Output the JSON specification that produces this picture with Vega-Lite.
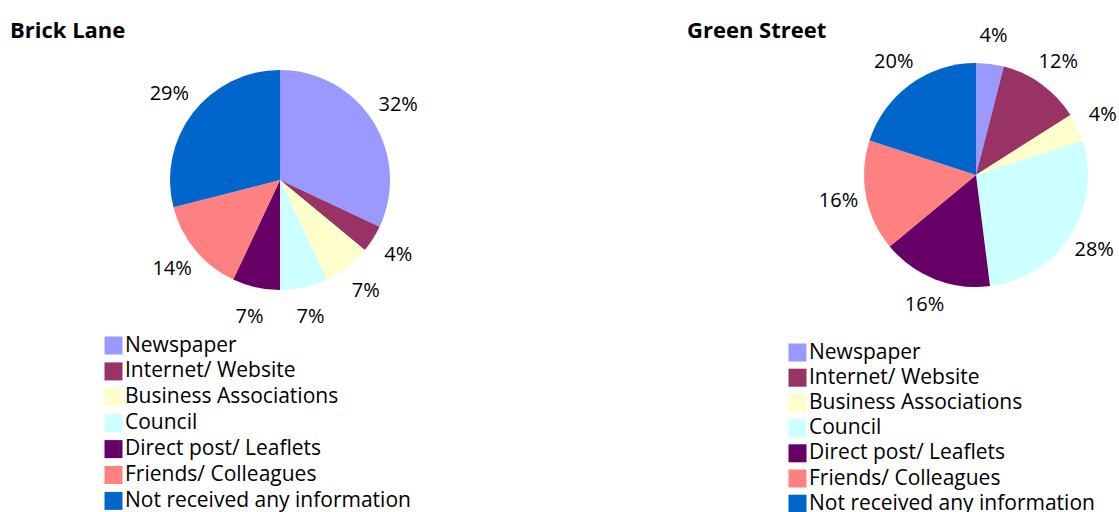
{
  "$schema": "https://vega.github.io/schema/vega-lite/v6.json",
  "padding": {"left": 10, "top": 20, "right": 0, "bottom": 0},
  "bounds": "flush",
  "spacing": 311,
  "background": "white",
  "config": {
    "view": {"stroke": null},
    "font": "Open Sans",
    "title": {"font": "Open Sans", "fontSize": 22, "fontWeight": "bold", "anchor": "start", "frame": "group", "color": "black", "offset": 12},
    "legend": {"padding": 0}
  },
  "datasets": {
    "d": [
      {"place": "Brick Lane", "idx": 1, "source": "Newspaper", "pct": 0.32},
      {"place": "Brick Lane", "idx": 2, "source": "Internet/ Website", "pct": 0.04},
      {"place": "Brick Lane", "idx": 3, "source": "Business Associations", "pct": 0.07},
      {"place": "Brick Lane", "idx": 4, "source": "Council", "pct": 0.07},
      {"place": "Brick Lane", "idx": 5, "source": "Direct post/ Leaflets", "pct": 0.07},
      {"place": "Brick Lane", "idx": 6, "source": "Friends/ Colleagues", "pct": 0.14},
      {"place": "Brick Lane", "idx": 7, "source": "Not received any information", "pct": 0.29},
      {"place": "Green Street", "idx": 1, "source": "Newspaper", "pct": 0.04},
      {"place": "Green Street", "idx": 2, "source": "Internet/ Website", "pct": 0.12},
      {"place": "Green Street", "idx": 3, "source": "Business Associations", "pct": 0.04},
      {"place": "Green Street", "idx": 4, "source": "Council", "pct": 0.28},
      {"place": "Green Street", "idx": 5, "source": "Direct post/ Leaflets", "pct": 0.16},
      {"place": "Green Street", "idx": 6, "source": "Friends/ Colleagues", "pct": 0.16},
      {"place": "Green Street", "idx": 7, "source": "Not received any information", "pct": 0.20}
    ]
  },
  "resolve": {"scale": {"color": "independent"}, "legend": {"color": "independent"}},
  "hconcat": [
    {
      "width": 540,
      "height": 250,
      "title": {"text": "Brick Lane"},
      "data": {"name": "d"},
      "transform": [{"filter": "datum.place === 'Brick Lane'"}],
      "encoding": {
        "theta": {"field": "pct", "type": "quantitative", "stack": true},
        "order": {"field": "idx", "type": "quantitative"}
      },
      "layer": [
        {
          "mark": {"type": "arc", "outerRadius": 110},
          "encoding": {
            "color": {
              "field": "source", "type": "nominal",
              "scale": {
                "domain": ["Newspaper", "Internet/ Website", "Business Associations", "Council", "Direct post/ Leaflets", "Friends/ Colleagues", "Not received any information"],
                "range": ["#9999FF", "#993366", "#FFFFCC", "#CCFFFF", "#660066", "#FF8080", "#0066CC"]
              },
              "legend": {
                "orient": "none", "legendX": 93, "legendY": 280, "title": null,
                "symbolType": "square", "symbolSize": 324, "symbolStrokeWidth": 0, "symbolOpacity": 1,
                "labelFontSize": 21, "labelFont": "Open Sans", "labelColor": "black", "labelOffset": 1,
                "rowPadding": 3.9, "labelLimit": 400
              }
            }
          }
        },
        {
          "mark": {"type": "text", "radius": 140, "fontSize": 20, "color": "black", "align": "center", "baseline": "middle"},
          "encoding": {
            "detail": {"field": "source", "type": "nominal"},
            "text": {"field": "pct", "type": "quantitative", "format": ".0%"}
          }
        }
      ]
    },
    {
      "width": 230,
      "height": 240,
      "title": {"text": "Green Street", "dx": -174, "dy": 29},
      "data": {"name": "d"},
      "transform": [{"filter": "datum.place === 'Green Street'"}],
      "encoding": {
        "theta": {"field": "pct", "type": "quantitative", "stack": true},
        "order": {"field": "idx", "type": "quantitative"}
      },
      "layer": [
        {
          "mark": {"type": "arc", "outerRadius": 112},
          "encoding": {
            "color": {
              "field": "source", "type": "nominal",
              "scale": {
                "domain": ["Newspaper", "Internet/ Website", "Business Associations", "Council", "Direct post/ Leaflets", "Friends/ Colleagues", "Not received any information"],
                "range": ["#9999FF", "#993366", "#FFFFCC", "#CCFFFF", "#660066", "#FF8080", "#0066CC"]
              },
              "legend": {
                "orient": "none", "legendX": -74, "legendY": 287, "title": null,
                "symbolType": "square", "symbolSize": 324, "symbolStrokeWidth": 0, "symbolOpacity": 1,
                "labelFontSize": 21, "labelFont": "Open Sans", "labelColor": "black", "labelOffset": 1,
                "rowPadding": 3.2, "labelLimit": 400
              }
            }
          }
        },
        {
          "mark": {"type": "text", "radius": 140, "fontSize": 20, "color": "black", "align": "center", "baseline": "middle"},
          "encoding": {
            "detail": {"field": "source", "type": "nominal"},
            "text": {"field": "pct", "type": "quantitative", "format": ".0%"}
          }
        }
      ]
    }
  ]
}
